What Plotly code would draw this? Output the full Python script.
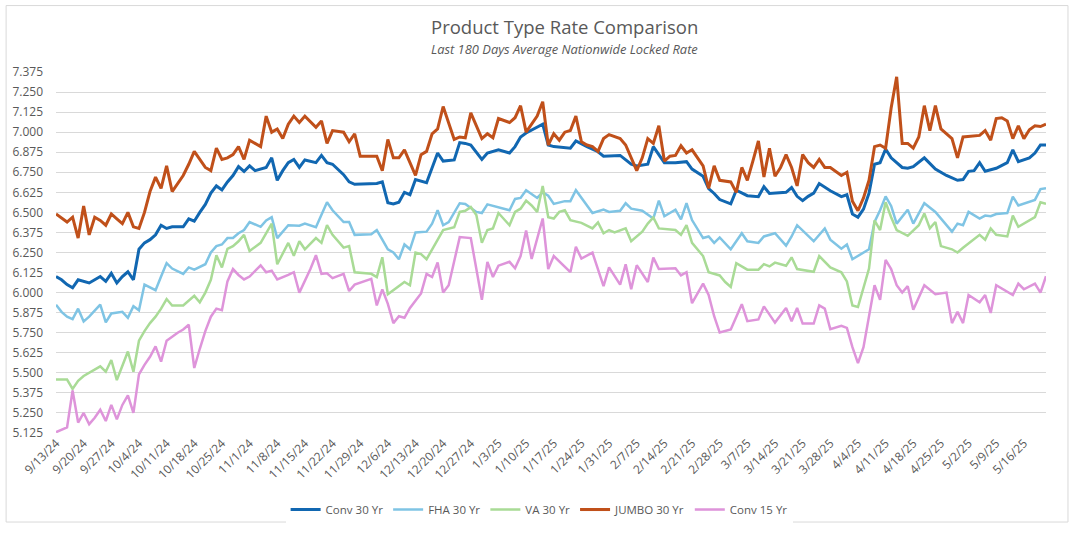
import plotly.graph_objects as go
import pandas as pd

# business days covered by the chart (180 days, 9/13/24 - 5/22/25)
days = pd.bdate_range("2024-09-13", periods=180)

# each series: business-day index -> average locked rate
conv30_day = [0, 1, 2, 3, 4, 5, 6, 7, 8, 9, 10, 11, 12, 13, 14, 15, 16, 17, 18, 19, 20, 21, 23, 24, 25, 26, 27, 28, 29, 30,
              31, 32, 33, 34, 35, 36, 37, 38, 39, 40, 41, 42, 43, 44, 45, 47, 48, 49, 50, 52, 53, 54, 58, 59, 60, 61, 62, 63, 64, 65,
              67, 68, 69, 70, 72, 73, 74, 75, 77, 78, 80, 82, 83, 84, 85, 88, 89, 90, 93, 94, 95, 96, 98, 99, 102, 104, 105, 107, 108, 110,
              112, 114, 115, 117, 118, 119, 120, 122, 123, 125, 127, 128, 129, 132, 133, 134, 135, 136, 137, 138, 140, 142, 143, 144, 145, 146, 147, 148, 149, 150,
              151, 153, 154, 155, 157, 159, 161, 163, 164, 165, 166, 167, 168, 170, 172, 173, 174, 176, 177, 178, 179]
conv30_rate = [6.10, 6.08, 6.05, 6.03, 6.08, 6.07, 6.06, 6.08, 6.10, 6.07, 6.12, 6.06, 6.10, 6.13, 6.08, 6.27, 6.31, 6.33, 6.36, 6.42, 6.40, 6.41, 6.41, 6.46, 6.445, 6.50, 6.55, 6.62, 6.665, 6.64,
               6.69, 6.73, 6.785, 6.755, 6.79, 6.76, 6.77, 6.78, 6.84, 6.70, 6.76, 6.81, 6.83, 6.78, 6.827, 6.81, 6.855, 6.81, 6.80, 6.735, 6.69, 6.675, 6.68, 6.69, 6.56, 6.553, 6.563, 6.625, 6.61, 6.705,
               6.685, 6.78, 6.87, 6.82, 6.827, 6.935, 6.93, 6.92, 6.83, 6.87, 6.89, 6.87, 6.91, 6.97, 6.995, 7.05, 6.92, 6.91, 6.90, 6.945, 6.93, 6.91, 6.878, 6.85, 6.855, 6.80, 6.79, 6.80, 6.91, 6.81,
               6.81, 6.816, 6.77, 6.725, 6.648, 6.618, 6.58, 6.553, 6.638, 6.604, 6.598, 6.66, 6.618, 6.625, 6.655, 6.60, 6.573, 6.60, 6.62, 6.68, 6.635, 6.598, 6.61, 6.49, 6.47, 6.52, 6.62, 6.80, 6.81, 6.895,
               6.84, 6.78, 6.775, 6.785, 6.84, 6.77, 6.73, 6.70, 6.705, 6.756, 6.76, 6.81, 6.756, 6.775, 6.81, 6.89, 6.816, 6.84, 6.87, 6.92, 6.92]

fha30_day = [0, 1, 2, 3, 4, 5, 6, 7, 8, 9, 10, 12, 13, 14, 15, 16, 17, 18, 19, 20, 21, 23, 24, 25, 27, 28, 29, 30, 31, 32,
             33, 34, 35, 37, 38, 39, 40, 42, 44, 45, 47, 48, 49, 50, 52, 53, 54, 57, 58, 59, 60, 61, 62, 63, 64, 65, 67, 68, 69, 70,
             71, 73, 74, 76, 77, 78, 82, 83, 84, 85, 87, 88, 89, 90, 92, 93, 94, 97, 99, 100, 102, 103, 104, 106, 108, 109, 110, 112, 113, 114,
             115, 117, 118, 119, 120, 122, 124, 125, 127, 128, 130, 132, 133, 134, 137, 139, 140, 142, 143, 144, 145, 147, 148, 149, 150, 151, 152, 154, 155, 157,
             159, 162, 163, 164, 165, 167, 168, 169, 170, 172, 173, 174, 177, 178, 179]
fha30_rate = [5.925, 5.88, 5.85, 5.835, 5.90, 5.82, 5.85, 5.89, 5.925, 5.815, 5.87, 5.88, 5.843, 5.915, 5.89, 6.05, 6.03, 6.015, 6.10, 6.184, 6.15, 6.117, 6.157, 6.143, 6.177, 6.25, 6.29, 6.30, 6.34, 6.34,
              6.37, 6.39, 6.44, 6.41, 6.45, 6.47, 6.34, 6.42, 6.417, 6.43, 6.407, 6.48, 6.563, 6.513, 6.44, 6.44, 6.36, 6.364, 6.39, 6.33, 6.27, 6.25, 6.208, 6.30, 6.27, 6.375, 6.38, 6.43, 6.513, 6.42,
              6.44, 6.557, 6.553, 6.503, 6.496, 6.55, 6.513, 6.584, 6.59, 6.638, 6.59, 6.625, 6.604, 6.553, 6.57, 6.57, 6.638, 6.496, 6.517, 6.503, 6.51, 6.557, 6.523, 6.51, 6.462, 6.573, 6.476, 6.517, 6.456, 6.557,
              6.452, 6.34, 6.35, 6.31, 6.344, 6.27, 6.37, 6.32, 6.31, 6.35, 6.37, 6.293, 6.35, 6.42, 6.32, 6.40, 6.33, 6.274, 6.30, 6.208, 6.23, 6.27, 6.44, 6.513, 6.60, 6.54, 6.43, 6.517, 6.43, 6.557,
              6.503, 6.38, 6.43, 6.42, 6.503, 6.462, 6.48, 6.476, 6.49, 6.496, 6.598, 6.543, 6.578, 6.645, 6.65]

va30_day = [0, 2, 3, 4, 5, 7, 8, 9, 10, 11, 12, 13, 14, 15, 16, 17, 18, 19, 20, 21, 23, 25, 26, 27, 28, 29, 30, 31, 32, 33,
            34, 35, 37, 39, 40, 42, 43, 44, 45, 47, 48, 49, 50, 52, 53, 54, 57, 58, 59, 60, 63, 64, 65, 66, 67, 69, 70, 72, 73, 74,
            75, 76, 77, 78, 79, 80, 82, 83, 84, 85, 86, 87, 88, 89, 90, 91, 92, 93, 95, 97, 98, 99, 100, 101, 103, 104, 106, 107, 108, 109,
            112, 113, 114, 115, 117, 118, 120, 121, 122, 123, 125, 127, 128, 129, 130, 132, 133, 134, 137, 138, 139, 140, 142, 143, 144, 145, 147, 148, 149, 150,
            151, 152, 154, 156, 157, 158, 159, 160, 162, 163, 164, 167, 168, 169, 170, 172, 173, 174, 177, 178, 179]
va30_rate = [5.458, 5.458, 5.40, 5.45, 5.48, 5.52, 5.54, 5.507, 5.58, 5.455, 5.55, 5.633, 5.507, 5.70, 5.76, 5.81, 5.85, 5.90, 5.96, 5.92, 5.92, 5.98, 5.94, 6.00, 6.08, 6.233, 6.157, 6.273, 6.29, 6.32,
             6.36, 6.26, 6.31, 6.43, 6.177, 6.31, 6.23, 6.32, 6.27, 6.34, 6.31, 6.42, 6.36, 6.28, 6.29, 6.127, 6.117, 6.097, 6.22, 5.99, 6.066, 6.046, 6.25, 6.24, 6.208, 6.334, 6.39, 6.407, 6.503, 6.51,
             6.533, 6.483, 6.31, 6.39, 6.40, 6.496, 6.42, 6.503, 6.523, 6.573, 6.543, 6.503, 6.665, 6.47, 6.462, 6.503, 6.513, 6.452, 6.435, 6.40, 6.437, 6.37, 6.39, 6.375, 6.40, 6.32, 6.38, 6.43, 6.468, 6.40,
             6.39, 6.36, 6.42, 6.31, 6.228, 6.127, 6.107, 6.066, 6.036, 6.184, 6.143, 6.143, 6.177, 6.163, 6.187, 6.167, 6.22, 6.147, 6.13, 6.228, 6.19, 6.157, 6.127, 6.07, 5.92, 5.91, 6.15, 6.45, 6.39, 6.563,
             6.47, 6.39, 6.354, 6.42, 6.493, 6.40, 6.44, 6.29, 6.27, 6.25, 6.28, 6.36, 6.33, 6.40, 6.36, 6.35, 6.48, 6.41, 6.47, 6.563, 6.553]

jumbo30_day = [0, 2, 3, 4, 5, 6, 7, 8, 9, 10, 11, 12, 13, 14, 15, 16, 17, 18, 19, 20, 21, 22, 23, 24, 25, 27, 28, 29, 30, 31,
               32, 33, 34, 35, 36, 37, 38, 39, 40, 41, 42, 43, 44, 45, 47, 48, 49, 50, 52, 53, 54, 55, 58, 59, 60, 61, 62, 63, 64, 65,
               66, 67, 68, 69, 70, 72, 73, 74, 75, 77, 78, 79, 80, 82, 83, 84, 85, 87, 88, 89, 90, 91, 92, 93, 94, 95, 96, 97, 98, 99,
               100, 102, 103, 104, 105, 106, 107, 108, 109, 110, 111, 112, 113, 114, 115, 117, 118, 119, 120, 122, 123, 124, 125, 126, 127, 128, 129, 130, 131, 132,
               133, 134, 135, 136, 137, 138, 139, 140, 142, 143, 144, 145, 146, 147, 148, 149, 150, 151, 152, 153, 154, 155, 156, 157, 158, 159, 160, 162, 163, 164,
               167, 168, 169, 170, 171, 172, 173, 174, 175, 176, 177, 178, 179]
jumbo30_rate = [6.49, 6.44, 6.47, 6.34, 6.54, 6.36, 6.47, 6.45, 6.42, 6.49, 6.46, 6.43, 6.50, 6.41, 6.40, 6.50, 6.63, 6.72, 6.65, 6.79, 6.63, 6.68, 6.73, 6.80, 6.88, 6.78, 6.76, 6.90, 6.83, 6.84,
                6.86, 6.91, 6.83, 6.95, 6.93, 6.91, 7.10, 7.00, 7.02, 6.96, 7.05, 7.10, 7.06, 7.10, 7.03, 7.07, 6.93, 7.01, 7.00, 6.94, 6.99, 6.85, 6.85, 6.76, 6.955, 6.84, 6.84, 6.89, 6.81, 6.73,
                6.86, 6.88, 6.99, 7.02, 7.16, 6.955, 6.97, 6.965, 7.12, 6.96, 6.99, 6.965, 7.085, 7.06, 7.09, 7.165, 7.00, 7.10, 7.19, 6.92, 6.99, 6.95, 7.00, 7.01, 7.10, 6.94, 6.92, 6.91, 6.88, 6.96,
                6.985, 6.96, 6.92, 6.84, 6.76, 6.84, 6.96, 6.93, 7.04, 6.82, 6.85, 6.855, 6.915, 6.87, 6.89, 6.79, 6.65, 6.79, 6.70, 6.69, 6.625, 6.78, 6.70, 6.82, 6.945, 6.72, 6.90, 6.725, 6.78, 6.86,
                6.78, 6.665, 6.86, 6.81, 6.78, 6.83, 6.78, 6.78, 6.73, 6.75, 6.57, 6.51, 6.59, 6.70, 6.91, 6.92, 6.90, 7.15, 7.345, 6.93, 6.93, 6.90, 6.97, 7.165, 7.01, 7.165, 7.02, 6.96, 6.84, 6.97,
                6.98, 7.01, 6.95, 7.085, 7.09, 7.07, 6.96, 7.04, 6.96, 7.015, 7.04, 7.035, 7.05]

conv15_day = [0, 1, 2, 3, 4, 5, 6, 7, 8, 9, 10, 11, 12, 13, 14, 15, 16, 17, 18, 19, 20, 22, 23, 24, 25, 26, 27, 28, 29, 30,
              31, 32, 33, 34, 35, 37, 38, 39, 40, 42, 43, 44, 46, 47, 48, 49, 50, 52, 53, 54, 57, 58, 59, 60, 61, 62, 63, 64, 66, 67,
              68, 69, 70, 71, 73, 75, 77, 78, 79, 80, 82, 83, 84, 85, 86, 88, 89, 90, 93, 94, 95, 97, 99, 100, 102, 103, 104, 105, 107, 108,
              109, 112, 113, 114, 115, 117, 118, 119, 120, 122, 124, 125, 127, 128, 130, 132, 133, 134, 135, 137, 138, 139, 140, 142, 143, 144, 145, 146, 147, 148,
              149, 150, 151, 152, 153, 154, 155, 157, 159, 161, 162, 163, 164, 165, 167, 168, 169, 170, 173, 174, 175, 177, 178, 179]
conv15_rate = [5.13, 5.145, 5.16, 5.39, 5.19, 5.25, 5.18, 5.22, 5.27, 5.20, 5.30, 5.21, 5.30, 5.36, 5.25, 5.49, 5.55, 5.60, 5.665, 5.57, 5.70, 5.75, 5.77, 5.80, 5.53, 5.65, 5.76, 5.85, 5.90, 5.89,
               6.07, 6.147, 6.11, 6.082, 6.10, 6.17, 6.127, 6.137, 6.082, 6.11, 6.127, 6.00, 6.147, 6.233, 6.117, 6.12, 6.09, 6.117, 6.01, 6.05, 6.086, 5.92, 6.02, 5.93, 5.81, 5.853, 5.843, 5.904, 5.995, 6.117,
               6.097, 6.188, 6.00, 6.046, 6.346, 6.34, 5.955, 6.192, 6.097, 6.168, 6.192, 6.152, 6.228, 6.387, 6.21, 6.462, 6.147, 6.228, 6.127, 6.285, 6.212, 6.249, 6.04, 6.157, 6.05, 6.177, 6.021, 6.171, 6.066, 6.218,
               6.147, 6.152, 6.107, 6.127, 5.934, 6.056, 5.985, 5.853, 5.751, 5.77, 5.928, 5.822, 5.833, 5.914, 5.813, 5.904, 5.822, 5.904, 5.807, 5.807, 5.92, 5.90, 5.772, 5.793, 5.78, 5.66, 5.56, 5.66, 5.867, 6.046,
               5.955, 6.204, 6.147, 6.046, 6.00, 6.04, 5.893, 6.046, 5.99, 6.00, 5.81, 5.88, 5.81, 5.985, 5.94, 5.985, 5.873, 6.046, 5.985, 6.056, 6.021, 6.056, 6.00, 6.102]

series = [
    ("Conv 30 Yr", conv30_day, conv30_rate, "#1167b1", 3),
    ("FHA 30 Yr", fha30_day, fha30_rate, "#7fc4e4", 2.5),
    ("VA 30 Yr", va30_day, va30_rate, "#a9db96", 2.5),
    ("JUMBO 30 Yr", jumbo30_day, jumbo30_rate, "#c0501a", 3),
    ("Conv 15 Yr", conv15_day, conv15_rate, "#de94da", 2.5),
]

grey = "#595959"

fig = go.Figure()
for name, idx, rate, color, width in series:
    fig.add_trace(go.Scatter(x=days[idx], y=rate, name=name, mode="lines",
                             line=dict(color=color, width=width)))

tick_days = days[::5]
tick_text = [f"{d.month}/{d.day}/{d.strftime('%y')}" for d in tick_days]

fig.update_layout(
    width=1074, height=536,
    margin=dict(l=54, r=28, t=72, b=95),
    paper_bgcolor="white", plot_bgcolor="white",
    font=dict(family="Open Sans", size=12, color=grey),
    showlegend=True,
    legend=dict(orientation="h", x=0.488, y=-0.212, xanchor="center", yanchor="middle",
                font=dict(size=11.5, color=grey), itemwidth=30, tracegroupgap=0),
)

fig.update_xaxes(
    type="date",
    rangebreaks=[dict(bounds=["sat", "mon"])],
    range=[days[0], days[-1]],
    tickvals=tick_days, ticktext=tick_text, tickangle=-45,
    showgrid=False, zeroline=False, showline=False, ticks="",
    tickfont=dict(size=12, color=grey),
)

fig.update_yaxes(
    range=[5.125, 7.375], tick0=5.125, dtick=0.125, tickformat=".3f",
    gridcolor="#d9d9d9", gridwidth=1, zeroline=False, showline=False,
    ticklabelstandoff=12, tickfont=dict(size=12, color=grey),
)

# title and subtitle
fig.add_annotation(text="Product Type Rate Comparison", xref="paper", yref="paper",
                   x=0.514, y=1.125, yanchor="middle", showarrow=False,
                   font=dict(size=18.5, color=grey))
fig.add_annotation(text="<i>Last 180 Days Average Nationwide Locked Rate</i>", xref="paper", yref="paper",
                   x=0.514, y=1.063, yanchor="middle", showarrow=False,
                   font=dict(size=12.9, color=grey))

# chart border
fig.add_shape(type="rect", xref="paper", yref="paper", x0=-0.0504, x1=1.0222, y0=-0.2466, y1=1.184,
              line=dict(color="#d9d9d9", width=1), fillcolor="rgba(0,0,0,0)", layer="below")

fig.write_html("out.html", config={"displayModeBar": False},
               post_script="document.body.style.margin='0px';")
